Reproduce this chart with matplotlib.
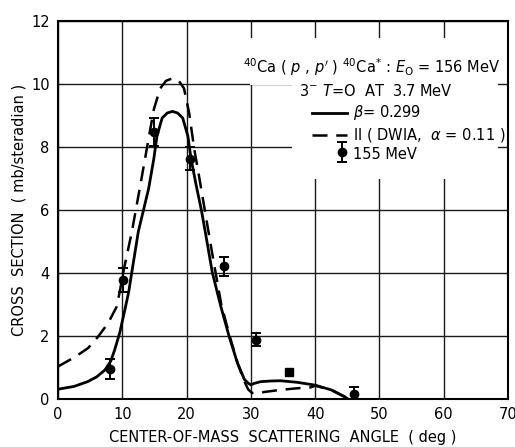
import matplotlib
matplotlib.use('Agg')
import matplotlib.pyplot as plt
from matplotlib.patches import Rectangle

plt.rcParams['font.family'] = ['DejaVu Sans']
plt.rcParams['mathtext.fontset'] = 'dejavusans'

# beta = 0.299 (solid)
beta_x = [0, 2.5, 4.6, 6.0, 7.3, 8.2, 8.8, 9.6, 10.4, 11.0, 11.5, 12.5, 13.3, 14.1,
          14.9, 15.4, 16.2, 17.0, 17.8, 18.6, 19.4, 20.2, 20.7, 21.5, 22.3, 23.0,
          24.0, 25.3, 26.6, 27.9, 29.0, 29.6, 30.0, 30.6, 31.5, 33.0, 34.6, 37.2,
          40.0, 42.5, 44.6, 45.1]
beta_y = [0.31, 0.40, 0.55, 0.70, 0.92, 1.2, 1.55, 2.1, 2.83, 3.4, 4.05, 5.32, 6.0,
          6.68, 7.62, 8.35, 8.92, 9.08, 9.13, 9.08, 8.92, 8.35, 7.62, 6.78, 6.0,
          5.20, 4.02, 2.96, 2.0, 1.15, 0.62, 0.50, 0.45, 0.50, 0.55, 0.57, 0.58,
          0.53, 0.44, 0.29, 0.07, 0.0]

# II (DWIA, alpha = 0.11) (dashed)
dwia_x = [0, 2.6, 4.7, 6.2, 7.8, 9.1, 9.6, 10.2, 11.5, 12.8, 13.8, 14.9, 15.9, 16.8,
          17.8, 18.8, 19.6, 20.4, 21.2, 22.0, 23.05, 24.1, 25.4, 26.7, 28.0, 29.0,
          29.6, 30.2, 31.3, 32.0, 34.6, 37.2, 39.3, 40.0, 42.5, 44.6, 45.1]
dwia_y = [1.03, 1.33, 1.62, 1.97, 2.41, 2.92, 3.4, 4.07, 5.32, 6.78, 7.93, 9.19,
          9.86, 10.1, 10.18, 10.1, 9.86, 9.08, 7.93, 7.0, 5.74, 4.49, 3.0, 2.0,
          1.1, 0.55, 0.30, 0.19, 0.18, 0.22, 0.29, 0.34, 0.37, 0.42, 0.29, 0.07, 0.0]

# 155 MeV data
data_x = [8.1, 10.1, 15.0, 20.5, 25.9, 30.8, 46.0]
data_y = [0.95, 3.78, 8.48, 7.63, 4.22, 1.88, 0.17]
data_err = [0.33, 0.38, 0.44, 0.36, 0.30, 0.21, 0.21]
sq_x = [35.9]
sq_y = [0.86]

xticks = [0, 10, 20, 30, 40, 50, 60, 70]
yticks = [0, 2, 4, 6, 8, 10, 12]

fig = plt.figure(figsize=(5.15, 4.47), dpi=100)
ax = fig.add_axes([58 / 515, 48 / 447, 450 / 515, 378 / 447])
ax.set_xlim(0, 70)
ax.set_ylim(0, 12)
ax.set_xticks(xticks)
ax.set_yticks(yticks)
ax.tick_params(length=0, labelsize=10.5, pad=6)
ax.grid(True, color='#1a1a1a', lw=1.0)
ax.set_axisbelow(True)
for s in ax.spines.values():
    s.set_linewidth(1.5)

# blank area behind the key (grid is cut out there)
ax.add_patch(Rectangle((29.85, 9.97), 68.45 - 29.85, 11.46 - 9.97,
                       fc='white', ec='none', zorder=1))
ax.add_patch(Rectangle((36.4, 6.98), 68.45 - 36.4, 10.0 - 6.98,
                       fc='white', ec='none', zorder=1))

ax.plot(beta_x, beta_y, color='k', lw=2.0, zorder=3)
ax.plot(dwia_x, dwia_y, color='k', lw=1.8, dashes=(6, 3.5), zorder=3)
ax.errorbar(data_x, data_y, yerr=data_err, fmt='o', color='k', ms=6,
            elinewidth=1.4, capsize=3.5, capthick=1.4, zorder=4)
ax.plot(sq_x, sq_y, 's', color='k', ms=6, zorder=4)

ax.set_xlabel('CENTER-OF-MASS  SCATTERING  ANGLE  ( deg )', fontsize=10.5)
ax.xaxis.set_label_coords(0.5, -0.082)
ax.set_ylabel('CROSS  SECTION  ( mb/steradian )', fontsize=10.5)
ax.yaxis.set_label_coords(-0.071, 0.5)

# key
fs = 10.5
ax.text(0.698, 0.878,
        r"$^{40}$Ca ( $p$ , $p'$ ) $^{40}$Ca$^{*}$ : $E_{\rm O}$ = 156 MeV",
        transform=ax.transAxes, ha='center', va='center', fontsize=fs, zorder=5)
ax.text(0.707, 0.815, r"3$^{-}$ $T$=O  AT  3.7 MeV",
        transform=ax.transAxes, ha='center', va='center', fontsize=fs, zorder=5)
ax.plot([0.564, 0.642], [0.757, 0.757], color='k', lw=2.0, transform=ax.transAxes)
ax.text(0.655, 0.757, r"$\beta$= 0.299", transform=ax.transAxes,
        ha='left', va='center', fontsize=fs, zorder=5)
ax.plot([0.564, 0.642], [0.699, 0.699], color='k', lw=1.8, dashes=(6, 3.5),
        transform=ax.transAxes)
ax.text(0.655, 0.699, r"II ( DWIA,  $\alpha$ = 0.11 )", transform=ax.transAxes,
        ha='left', va='center', fontsize=fs, zorder=5)
ax.errorbar([44.2], [7.84], yerr=[0.33], fmt='o', color='k', ms=6,
            elinewidth=1.4, capsize=3.5, capthick=1.4, zorder=5)
ax.text(0.655, 0.646, "155 MeV", transform=ax.transAxes,
        ha='left', va='center', fontsize=fs, zorder=5)

fig.savefig('out.png', dpi=100)
